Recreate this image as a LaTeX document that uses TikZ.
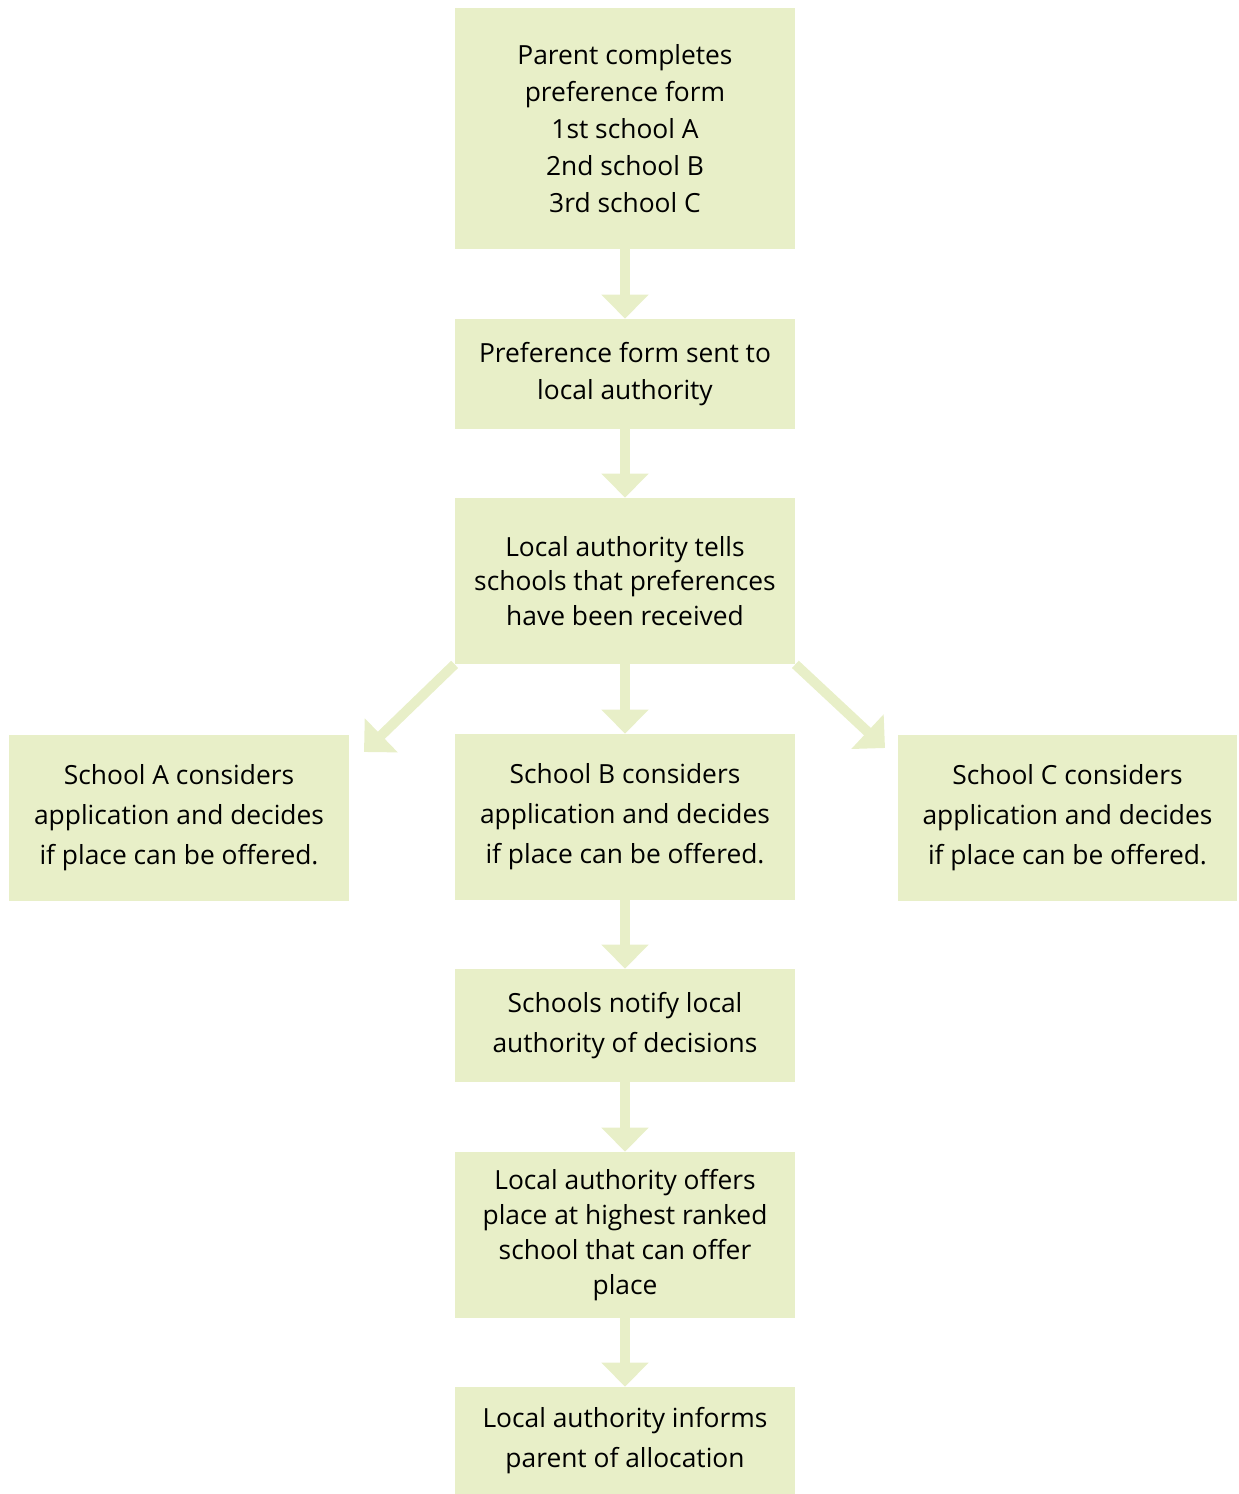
\documentclass[tikz,border=0pt]{standalone}
\usepackage{fontspec}
\setmainfont{Open Sans}
\usetikzlibrary{arrows.meta}
\definecolor{boxgreen}{RGB}{232,239,200}

\begin{document}
\begin{tikzpicture}[box/.style={fill=boxgreen,rectangle,align=center,minimum width=6.8cm,font=\fontsize{15}{21}\selectfont},
  flow/.style={boxgreen,line width=0.2cm,-{Triangle[width=0.92cm,length=0.48cm]}}]
            \useasboundingbox (0,0) rectangle (24.76,-29.88);
            \coordinate (tipA) at (7.28,-15.04);
            \coordinate (tipC) at (17.7,-14.96);
            \node (n1) at (12.5,-2.57)[box,minimum height=4.82cm]{Parent completes\\preference form\\1st school A\\2nd school B\\3rd school C};
            \node (n2) at (12.5,-7.48)[box,minimum height=2.2cm]{Preference form sent to\\local authority};
            \node (n3) at (12.5,-11.62)[box,minimum height=3.32cm,font=\fontsize{15}{19.8}\selectfont]{Local authority tells\\schools that preferences\\have been received};
            \node (sa) at (3.58,-16.36)[box,minimum height=3.32cm,font=\fontsize{15}{22.7}\selectfont]{School A considers\\application and decides\\if place can be offered.};
            \node (sb) at (12.5,-16.34)[box,minimum height=3.32cm,font=\fontsize{15}{22.7}\selectfont]{School B considers\\application and decides\\if place can be offered.};
            \node (sc) at (21.35,-16.36)[box,minimum width=6.78cm,minimum height=3.32cm,font=\fontsize{15}{22.7}\selectfont]{School C considers\\application and decides\\if place can be offered.};
            \node (n7) at (12.5,-20.51)[box,minimum height=2.26cm,font=\fontsize{15}{22.7}\selectfont]{Schools notify local\\authority of decisions};
            \node (n8) at (12.5,-24.7)[box,minimum height=3.32cm,font=\fontsize{15}{19.8}\selectfont]{Local authority offers\\place at highest ranked\\school that can offer\\place};
            \node (n9) at (12.5,-28.81)[box,minimum height=2.14cm,font=\fontsize{15}{22.7}\selectfont]{Local authority informs\\parent of allocation};
            \draw [flow] (n1)--(n2);
            \draw [flow] (n2)--(n3);
            \draw [flow] (n3)--(sb);
            \draw [flow] (n3.south west)--(tipA);
            \draw [flow] (n3.south east)--(tipC);
            \draw [flow] (sb)--(n7);
            \draw [flow] (n7)--(n8);
            \draw [flow] (n8)--(n9);
        \end{tikzpicture}
\end{document}
